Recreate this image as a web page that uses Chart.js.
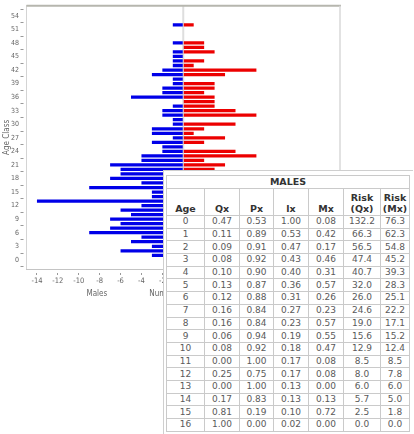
<!DOCTYPE html>
<html>
<head>
<meta charset="utf-8">
<script src="https://cdn.jsdelivr.net/npm/chart.js@4/dist/chart.umd.min.js"></script>
<style>
  html,body{margin:0;padding:0;background:#fff;}
  #wrap{position:relative;width:414px;height:434px;overflow:hidden;}
  #c{position:absolute;left:0;top:0;}
  #box{position:absolute;left:163px;top:170px;width:250px;height:270px;background:#fff;
       border-left:1px solid #cfcfcf;border-top:1px solid #cfcfcf;box-sizing:border-box;padding:4px 0 0 2px;}
  table{border-collapse:collapse;table-layout:fixed;font-family:"DejaVu Sans",Verdana,sans-serif;
        border:1px solid #a8a8a8;}
  td,th{border:1px solid #cacaca;padding:0;text-align:center;overflow:hidden;white-space:nowrap;}
  th{color:#333;font-weight:bold;font-size:9.5px;}
  tr.t th{height:12px;line-height:12px;}
  tr.h th{height:25px;vertical-align:bottom;line-height:11px;padding-bottom:1px;}
  td{color:#5a5a5a;font-size:9px;height:11.7px;line-height:11px;}
</style>
</head>
<body>
<div id="wrap">
  <canvas id="c" width="414" height="434"></canvas>
  <div id="box"><table id="tbl"></table></div>
</div>
<script>
// ---- pyramid data (age class -> count) ----
const ages = [0,1,2,3,4,5,6,7,8,9,10,11,12,13,14,15,16,17,18,19,20,21,22,23,24,25,26,27,28,29,30,31,32,33,34,35,36,37,38,39,40,41,42,43,44,45,46,47,48,49,50,51,52,53,54];
const males = [0,-3,-6,-3,-5,-4,-9,-7,-6,-7,-5,-6,-4,-14,-3,-3,-9,-4,-7,-6,-6,-7,-4,-4,-2,-2,-3,-1,-3,-3,-1,-1,-2,-2,-1,0,-5,-2,-2,-1,-1,-3,-2,-1,-1,-1,-1,0,-1,0,0,0,-1,0,0];
// ages 0-19 are hidden behind the table in the reference
const females = [null,null,null,null,null,null,null,null,null,null,null,null,null,null,null,null,null,null,null,null,3,4,2,7,5,0,2,4,1,2,5,0,7,5,3,3,3,2,3,3,0,4,7,1,2,0,3,2,2,0,0,0,1,0,0];
const xTickValues = [-14,-12,-10,-8,-6,-4,-2,0,2,4,6,8,10,12,14];
const yTickValues = [0,3,6,9,12,15,18,21,24,27,30,33,36,39,42,45,48,51,54];

// ---- life table ----
const tblAge = [0,1,2,3,4,5,6,7,8,9,10,11,12,13,14,15,16];
const qx = [0.47,0.11,0.09,0.08,0.10,0.13,0.12,0.16,0.16,0.06,0.08,0.00,0.25,0.00,0.17,0.81,1.00];
const px = [0.53,0.89,0.91,0.92,0.90,0.87,0.88,0.84,0.84,0.94,0.92,1.00,0.75,1.00,0.83,0.19,0.00];
const lx = [1.00,0.53,0.47,0.43,0.40,0.36,0.31,0.27,0.23,0.19,0.18,0.17,0.17,0.13,0.13,0.10,0.02];
const mx = [0.08,0.42,0.17,0.46,0.31,0.57,0.26,0.23,0.57,0.55,0.47,0.08,0.08,0.00,0.13,0.72,0.00];
const riskQx = [132.2,66.3,56.5,47.4,40.7,32.0,26.0,24.6,19.0,15.6,12.9,8.5,8.0,6.0,5.7,2.5,0.0];
const riskMx = [76.3,62.3,54.8,45.2,39.3,28.3,25.1,22.2,17.1,15.2,12.4,8.5,7.8,6.0,5.0,1.8,0.0];
const tableTitle = "MALES";
const tableHeads = ["Age","Qx","Px","lx","Mx","Risk<br>(Qx)","Risk<br>(Mx)"];
const colW = [38,35,34,35,35,37,29];

// build table
(function(){
  const t = document.getElementById('tbl');
  let h = '<colgroup>' + colW.map(w=>'<col style="width:'+w+'px">').join('') + '</colgroup>';
  h += '<tr class="t"><th colspan="7">'+tableTitle+'</th></tr>';
  h += '<tr class="h">' + tableHeads.map(s=>'<th>'+s+'</th>').join('') + '</tr>';
  for (let i=0;i<tblAge.length;i++){
    h += '<tr><td>'+tblAge[i]+'</td><td>'+qx[i].toFixed(2)+'</td><td>'+px[i].toFixed(2)+'</td><td>'+lx[i].toFixed(2)+
         '</td><td>'+mx[i].toFixed(2)+'</td><td>'+riskQx[i].toFixed(1)+'</td><td>'+riskMx[i].toFixed(1)+'</td></tr>';
  }
  t.innerHTML = h;
})();

const narrow = "'Liberation Sans Narrow','DejaVu Sans Condensed','Liberation Sans',sans-serif";

const deco = {
  id:'deco',
  beforeDatasetsDraw(chart){
    const {ctx, chartArea:a, scales:{x}} = chart;
    const z = x.getPixelForValue(0);
    ctx.save();
    ctx.strokeStyle = '#dedede'; ctx.lineWidth = 2;
    ctx.beginPath(); ctx.moveTo(z, a.top); ctx.lineTo(z, a.bottom); ctx.stroke();
    ctx.restore();
  },
  afterDraw(chart){
    const {ctx, chartArea:a, scales:{x}} = chart;
    ctx.save();
    ctx.strokeStyle = '#b6b6ae'; ctx.lineWidth = 2;
    ctx.beginPath(); ctx.moveTo(a.left, a.top); ctx.lineTo(a.right+1, a.top); ctx.stroke();
    ctx.strokeStyle = '#d8d8d8'; ctx.lineWidth = 1.5;
    ctx.beginPath(); ctx.moveTo(a.right, a.top); ctx.lineTo(a.right, a.bottom); ctx.stroke();
    ctx.fillStyle = '#666';
    ctx.font = '8px ' + narrow;
    ctx.textBaseline = 'middle';
    ctx.textAlign = 'center';
    ctx.fillText('Males', x.getPixelForValue(-8.27), a.bottom + 25);
    ctx.fillText('Females', x.getPixelForValue(8.27), a.bottom + 25);
    ctx.textAlign = 'left';
    ctx.fillText('Number', x.getPixelForValue(-3.25), a.bottom + 25);
    ctx.translate(6.5, (a.top + a.bottom) / 2);
    ctx.rotate(-Math.PI/2);
    ctx.textAlign = 'center';
    ctx.font = '8px ' + narrow;
    ctx.fillText('Age Class', 0, 0);
    ctx.restore();
  }
};

new Chart(document.getElementById('c'), {
  type: 'bar',
  data: {
    labels: ages,
    datasets: [
      {label:'Males', data: males, backgroundColor:'rgb(0,0,232)', borderWidth:0},
      {label:'Females', data: females, backgroundColor:'rgb(236,0,0)', borderWidth:0}
    ]
  },
  options: {
    indexAxis: 'y',
    responsive: false,
    animation: false,
    barPercentage: 0.72,
    categoryPercentage: 1,
    layout: {padding: {left:0, top:5, right:74, bottom:145}},
    plugins: {legend:{display:false}, tooltip:{enabled:false}},
    scales: {
      y: {
        type: 'linear',
        stacked: true,
        min: -0.5, max: 54.7,
        afterFit(s){ s.width = 26.5; },
        afterBuildTicks(s){ s.ticks = yTickValues.map(v=>({value:v})); },
        ticks: {autoSkip:false, padding:1.5, color:'#666', font:{family:narrow, size:7}},
        grid: {drawOnChartArea:false, drawTicks:true, tickLength:6, tickColor:'#999', tickBorderDash:[3,3]},
        border: {color:'#d4d4d4', width:1}
      },
      x: {
        type: 'linear',
        stacked: true,
        min: -15, max: 15,
        afterFit(s){ s.height = 20; },
        afterBuildTicks(s){ s.ticks = xTickValues.map(v=>({value:v})); },
        ticks: {autoSkip:false, maxRotation:0, padding:2, color:'#666', font:{family:narrow, size:7.5}},
        grid: {drawOnChartArea:false, drawTicks:true, tickLength:6, tickColor:'#999', tickBorderDash:[3,3], tickBorderDashOffset:3},
        border: {color:'#c4c4c4', width:1}
      }
    }
  },
  plugins: [deco]
});
</script>
</body>
</html>
